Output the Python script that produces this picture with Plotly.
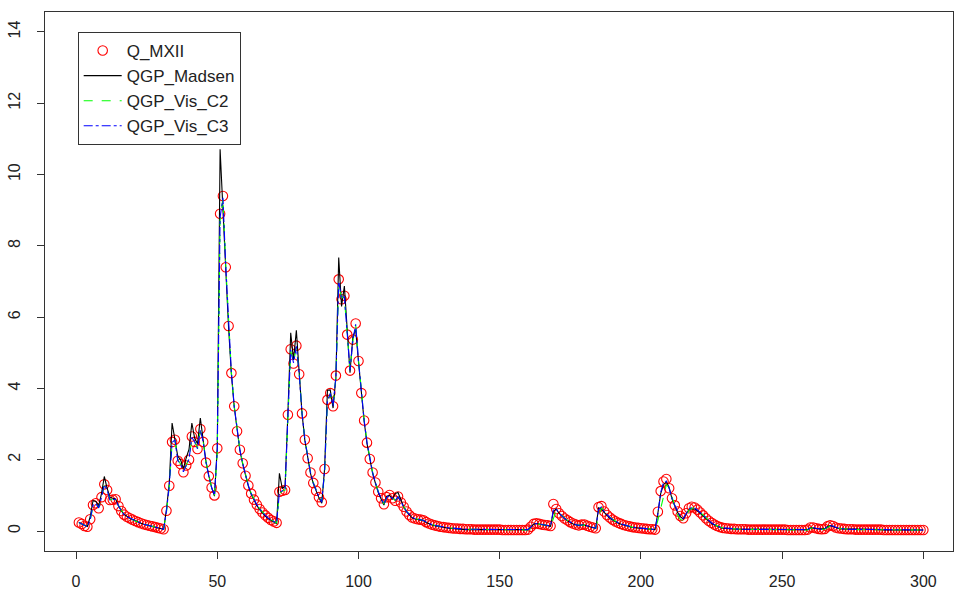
import plotly.graph_objects as go

x_index = list(range(1, 301))

q_mxii = [
    0.24, 0.20, 0.14, 0.12, 0.33, 0.73, 0.78, 0.64, 0.95, 1.31,
    1.15, 0.87, 0.88, 0.89, 0.70, 0.56, 0.46, 0.40, 0.36, 0.32,
    0.28, 0.25, 0.22, 0.19, 0.17, 0.15, 0.13, 0.11, 0.09, 0.07,
    0.05, 0.57, 1.27, 2.50, 2.56, 1.97, 1.88, 1.65, 1.84, 2.00,
    2.65, 2.50, 2.30, 2.86, 2.50, 1.92, 1.54, 1.22, 1.00, 2.32,
    8.90, 9.40, 7.40, 5.75, 4.43, 3.50, 2.80, 2.28, 1.90, 1.55,
    1.28, 1.05, 0.88, 0.74, 0.62, 0.52, 0.44, 0.37, 0.31, 0.27,
    0.23, 1.10, 1.13, 1.15, 3.26, 5.10, 4.70, 5.20, 4.40, 3.30,
    2.56, 2.04, 1.64, 1.35, 1.13, 0.95, 0.81, 1.74, 3.68, 3.87,
    3.50, 4.36, 7.06, 6.50, 6.60, 5.51, 4.50, 5.37, 5.82, 4.77,
    3.87, 3.10, 2.48, 2.02, 1.64, 1.36, 1.10, 0.92, 0.75, 0.95,
    1.01, 0.92, 0.85, 0.97, 0.80, 0.68, 0.55, 0.45, 0.38, 0.35,
    0.33, 0.32, 0.30, 0.25, 0.21, 0.18, 0.16, 0.14, 0.12, 0.11,
    0.10, 0.09, 0.08, 0.07, 0.07, 0.06, 0.06, 0.05, 0.05, 0.05,
    0.04, 0.04, 0.04, 0.04, 0.04, 0.04, 0.04, 0.04, 0.04, 0.04,
    0.03, 0.03, 0.03, 0.03, 0.03, 0.03, 0.03, 0.03, 0.03, 0.04,
    0.12, 0.20, 0.22, 0.20, 0.18, 0.17, 0.16, 0.14, 0.76, 0.62,
    0.50, 0.42, 0.35, 0.30, 0.25, 0.21, 0.18, 0.16, 0.18, 0.18,
    0.15, 0.12, 0.10, 0.08, 0.67, 0.70, 0.55, 0.45, 0.38, 0.32,
    0.27, 0.23, 0.20, 0.17, 0.15, 0.13, 0.11, 0.10, 0.09, 0.08,
    0.07, 0.06, 0.05, 0.05, 0.04, 0.54, 1.12, 1.39, 1.46, 1.20,
    0.92, 0.72, 0.55, 0.42, 0.36, 0.50, 0.64, 0.68, 0.66, 0.60,
    0.52, 0.44, 0.36, 0.29, 0.23, 0.18, 0.14, 0.11, 0.09, 0.08,
    0.07, 0.06, 0.06, 0.05, 0.05, 0.05, 0.05, 0.04, 0.04, 0.04,
    0.04, 0.04, 0.04, 0.04, 0.04, 0.04, 0.04, 0.04, 0.04, 0.04,
    0.04, 0.03, 0.03, 0.03, 0.03, 0.03, 0.03, 0.03, 0.04, 0.10,
    0.10, 0.08, 0.06, 0.05, 0.06, 0.13, 0.16, 0.14, 0.10, 0.08,
    0.07, 0.06, 0.05, 0.05, 0.05, 0.04, 0.04, 0.04, 0.04, 0.04,
    0.04, 0.04, 0.04, 0.04, 0.04, 0.03, 0.03, 0.03, 0.03, 0.03,
    0.03, 0.03, 0.03, 0.03, 0.03, 0.03, 0.03, 0.03, 0.03, 0.03,
]

qgp_madsen = [
    0.24, 0.20, 0.15, 0.13, 0.40, 0.85, 0.83, 0.70, 1.05, 1.53,
    1.20, 0.95, 0.92, 0.90, 0.72, 0.57, 0.47, 0.41, 0.36, 0.32,
    0.28, 0.25, 0.22, 0.19, 0.17, 0.15, 0.13, 0.11, 0.09, 0.07,
    0.05, 0.60, 1.35, 3.03, 2.60, 2.10, 2.00, 1.75, 2.05, 2.30,
    3.03, 2.60, 2.45, 3.17, 2.55, 1.95, 1.55, 1.22, 0.98, 2.35,
    10.71, 9.20, 7.35, 5.70, 4.40, 3.48, 2.78, 2.26, 1.88, 1.53,
    1.26, 1.03, 0.86, 0.72, 0.60, 0.50, 0.42, 0.35, 0.29, 0.25,
    0.21, 1.62, 1.20, 1.25, 3.30, 5.56, 4.80, 5.63, 4.45, 3.30,
    2.55, 2.02, 1.62, 1.33, 1.11, 0.93, 0.78, 1.75, 3.95, 3.96,
    3.45, 4.30, 7.67, 6.30, 6.87, 5.60, 4.44, 5.45, 5.65, 4.75,
    3.85, 3.08, 2.46, 2.00, 1.62, 1.34, 1.08, 0.90, 0.73, 0.98,
    1.00, 0.90, 1.05, 1.08, 0.85, 0.68, 0.54, 0.44, 0.37, 0.34,
    0.32, 0.31, 0.29, 0.24, 0.20, 0.17, 0.15, 0.13, 0.11, 0.10,
    0.09, 0.08, 0.07, 0.06, 0.06, 0.05, 0.05, 0.04, 0.04, 0.04,
    0.04, 0.04, 0.04, 0.04, 0.04, 0.04, 0.04, 0.04, 0.04, 0.04,
    0.03, 0.03, 0.03, 0.03, 0.03, 0.03, 0.03, 0.03, 0.03, 0.04,
    0.11, 0.19, 0.21, 0.19, 0.17, 0.16, 0.15, 0.13, 0.55, 0.62,
    0.50, 0.42, 0.35, 0.29, 0.24, 0.20, 0.17, 0.15, 0.17, 0.17,
    0.14, 0.11, 0.09, 0.07, 0.65, 0.62, 0.52, 0.43, 0.36, 0.31,
    0.26, 0.22, 0.19, 0.16, 0.14, 0.12, 0.10, 0.09, 0.08, 0.07,
    0.06, 0.05, 0.05, 0.04, 0.04, 0.50, 1.05, 1.30, 1.38, 1.22,
    0.90, 0.70, 0.52, 0.40, 0.34, 0.48, 0.60, 0.62, 0.62, 0.57,
    0.50, 0.42, 0.34, 0.27, 0.21, 0.17, 0.13, 0.10, 0.08, 0.07,
    0.06, 0.06, 0.05, 0.05, 0.05, 0.05, 0.04, 0.04, 0.04, 0.04,
    0.04, 0.04, 0.04, 0.04, 0.04, 0.04, 0.04, 0.04, 0.04, 0.04,
    0.04, 0.03, 0.03, 0.03, 0.03, 0.03, 0.03, 0.03, 0.04, 0.09,
    0.09, 0.07, 0.06, 0.05, 0.06, 0.12, 0.15, 0.13, 0.09, 0.07,
    0.06, 0.06, 0.05, 0.05, 0.05, 0.04, 0.04, 0.04, 0.04, 0.04,
    0.04, 0.04, 0.04, 0.04, 0.04, 0.03, 0.03, 0.03, 0.03, 0.03,
    0.03, 0.03, 0.03, 0.03, 0.03, 0.03, 0.03, 0.03, 0.03, 0.03,
]

qgp_vis_c2 = [
    0.24, 0.20, 0.15, 0.12, 0.30, 0.70, 0.78, 0.66, 0.92, 1.28,
    1.16, 0.88, 0.88, 0.89, 0.71, 0.57, 0.47, 0.41, 0.36, 0.32,
    0.28, 0.25, 0.22, 0.19, 0.17, 0.15, 0.13, 0.11, 0.09, 0.07,
    0.05, 0.52, 1.25, 2.45, 2.55, 2.00, 1.88, 1.68, 1.84, 2.05,
    2.60, 2.52, 2.32, 2.80, 2.52, 1.94, 1.55, 1.23, 1.00, 2.20,
    8.70, 9.35, 7.45, 5.78, 4.45, 3.52, 2.82, 2.29, 1.91, 1.56,
    1.29, 1.06, 0.89, 0.75, 0.63, 0.53, 0.45, 0.38, 0.32, 0.27,
    0.23, 1.05, 1.12, 1.15, 3.15, 5.05, 4.75, 5.15, 4.45, 3.32,
    2.58, 2.05, 1.65, 1.36, 1.14, 0.96, 0.82, 1.65, 3.60, 3.85,
    3.52, 4.30, 6.90, 6.55, 6.55, 5.55, 4.52, 5.32, 5.78, 4.80,
    3.90, 3.12, 2.50, 2.03, 1.65, 1.37, 1.11, 0.93, 0.76, 0.92,
    1.00, 0.93, 0.86, 0.95, 0.81, 0.69, 0.56, 0.46, 0.39, 0.35,
    0.33, 0.32, 0.30, 0.25, 0.21, 0.18, 0.16, 0.14, 0.12, 0.11,
    0.10, 0.09, 0.08, 0.07, 0.07, 0.06, 0.06, 0.05, 0.05, 0.05,
    0.04, 0.04, 0.04, 0.04, 0.04, 0.04, 0.04, 0.04, 0.04, 0.04,
    0.03, 0.03, 0.03, 0.03, 0.03, 0.03, 0.03, 0.03, 0.03, 0.03,
    0.08, 0.16, 0.20, 0.20, 0.18, 0.17, 0.16, 0.14, 0.35, 0.58,
    0.52, 0.43, 0.36, 0.30, 0.25, 0.21, 0.18, 0.16, 0.16, 0.17,
    0.15, 0.12, 0.10, 0.08, 0.40, 0.66, 0.56, 0.46, 0.39, 0.33,
    0.27, 0.23, 0.20, 0.17, 0.15, 0.13, 0.11, 0.10, 0.09, 0.08,
    0.07, 0.06, 0.05, 0.05, 0.04, 0.30, 0.62, 0.95, 1.30, 1.22,
    0.95, 0.70, 0.45, 0.32, 0.30, 0.42, 0.58, 0.64, 0.65, 0.60,
    0.52, 0.44, 0.36, 0.29, 0.23, 0.18, 0.14, 0.11, 0.09, 0.08,
    0.07, 0.06, 0.06, 0.05, 0.05, 0.05, 0.05, 0.04, 0.04, 0.04,
    0.04, 0.04, 0.04, 0.04, 0.04, 0.04, 0.04, 0.04, 0.04, 0.04,
    0.04, 0.03, 0.03, 0.03, 0.03, 0.03, 0.03, 0.03, 0.03, 0.07,
    0.09, 0.08, 0.06, 0.05, 0.05, 0.10, 0.14, 0.13, 0.10, 0.08,
    0.07, 0.06, 0.05, 0.05, 0.05, 0.04, 0.04, 0.04, 0.04, 0.04,
    0.04, 0.04, 0.04, 0.04, 0.04, 0.03, 0.03, 0.03, 0.03, 0.03,
    0.03, 0.03, 0.03, 0.03, 0.03, 0.03, 0.03, 0.03, 0.03, 0.03,
]

qgp_vis_c3 = [
    0.24, 0.20, 0.14, 0.12, 0.32, 0.72, 0.78, 0.65, 0.94, 1.30,
    1.15, 0.87, 0.88, 0.89, 0.70, 0.56, 0.46, 0.40, 0.36, 0.32,
    0.28, 0.25, 0.22, 0.19, 0.17, 0.15, 0.13, 0.11, 0.09, 0.07,
    0.05, 0.56, 1.27, 2.48, 2.56, 1.98, 1.88, 1.66, 1.84, 2.02,
    2.63, 2.50, 2.31, 2.84, 2.50, 1.93, 1.54, 1.22, 1.00, 2.28,
    8.80, 9.35, 7.42, 5.76, 4.44, 3.51, 2.81, 2.28, 1.90, 1.55,
    1.28, 1.05, 0.88, 0.74, 0.62, 0.52, 0.44, 0.37, 0.31, 0.27,
    0.23, 1.08, 1.13, 1.15, 3.22, 5.08, 4.72, 5.18, 4.42, 3.31,
    2.57, 2.04, 1.64, 1.35, 1.13, 0.95, 0.81, 1.70, 3.65, 3.86,
    3.51, 4.34, 7.00, 6.52, 6.58, 5.53, 4.51, 5.35, 5.80, 4.78,
    3.88, 3.11, 2.49, 2.02, 1.64, 1.36, 1.10, 0.92, 0.75, 0.94,
    1.00, 0.92, 0.85, 0.96, 0.80, 0.68, 0.55, 0.45, 0.38, 0.35,
    0.33, 0.32, 0.30, 0.25, 0.21, 0.18, 0.16, 0.14, 0.12, 0.11,
    0.10, 0.09, 0.08, 0.07, 0.07, 0.06, 0.06, 0.05, 0.05, 0.05,
    0.04, 0.04, 0.04, 0.04, 0.04, 0.04, 0.04, 0.04, 0.04, 0.04,
    0.03, 0.03, 0.03, 0.03, 0.03, 0.03, 0.03, 0.03, 0.03, 0.04,
    0.11, 0.19, 0.21, 0.20, 0.18, 0.17, 0.16, 0.14, 0.60, 0.62,
    0.50, 0.42, 0.35, 0.30, 0.25, 0.21, 0.18, 0.16, 0.17, 0.18,
    0.15, 0.12, 0.10, 0.08, 0.60, 0.68, 0.55, 0.45, 0.38, 0.32,
    0.27, 0.23, 0.20, 0.17, 0.15, 0.13, 0.11, 0.10, 0.09, 0.08,
    0.07, 0.06, 0.05, 0.05, 0.04, 0.48, 1.08, 1.36, 1.40, 1.20,
    0.92, 0.72, 0.54, 0.41, 0.35, 0.49, 0.62, 0.66, 0.65, 0.59,
    0.52, 0.44, 0.36, 0.29, 0.23, 0.18, 0.14, 0.11, 0.09, 0.08,
    0.07, 0.06, 0.06, 0.05, 0.05, 0.05, 0.05, 0.04, 0.04, 0.04,
    0.04, 0.04, 0.04, 0.04, 0.04, 0.04, 0.04, 0.04, 0.04, 0.04,
    0.04, 0.03, 0.03, 0.03, 0.03, 0.03, 0.03, 0.03, 0.04, 0.09,
    0.10, 0.08, 0.06, 0.05, 0.06, 0.12, 0.15, 0.14, 0.10, 0.08,
    0.07, 0.06, 0.05, 0.05, 0.05, 0.04, 0.04, 0.04, 0.04, 0.04,
    0.04, 0.04, 0.04, 0.04, 0.04, 0.03, 0.03, 0.03, 0.03, 0.03,
    0.03, 0.03, 0.03, 0.03, 0.03, 0.03, 0.03, 0.03, 0.03, 0.03,
]

x_ticks = [0, 50, 100, 150, 200, 250, 300]
y_ticks = [0, 2, 4, 6, 8, 10, 12, 14]

FONT = "Liberation Sans, Arial, Helvetica, sans-serif"

fig = go.Figure()
fig.add_trace(go.Scatter(
    x=x_index, y=q_mxii, mode="markers", name="Q_MXII",
    marker=dict(symbol="circle-open", size=9.5, color="#FF0000",
                line=dict(width=1.1, color="#FF0000")),
))
fig.add_trace(go.Scatter(
    x=x_index, y=qgp_madsen, mode="lines", name="QGP_Madsen",
    line=dict(color="#000000", width=1.1),
))
fig.add_trace(go.Scatter(
    x=x_index, y=qgp_vis_c2, mode="lines", name="QGP_Vis_C2",
    line=dict(color="#00FF00", width=1.1, dash="dash"),
))
fig.add_trace(go.Scatter(
    x=x_index, y=qgp_vis_c3, mode="lines", name="QGP_Vis_C3",
    line=dict(color="#0000FF", width=1.1, dash="dashdot"),
))

axis_common = dict(
    showgrid=False, zeroline=False, showline=True, mirror=True,
    linecolor="#333333", linewidth=1, ticks="outside", ticklen=7,
    tickcolor="#333333", tickwidth=1,
    tickfont=dict(family=FONT, size=16, color="#222222"),
)

fig.update_layout(
    width=956, height=593,
    margin=dict(l=45, r=3, t=12, b=42),
    paper_bgcolor="white", plot_bgcolor="white",
    font=dict(family=FONT, size=16, color="#222222"),
    xaxis=dict(range=[-11, 310.5], tickvals=x_ticks, ticklabelstandoff=9,
               **axis_common),
    yaxis=dict(range=[-0.56, 14.56], tickvals=y_ticks, tickangle=-90,
               ticklabelstandoff=11, **axis_common),
    legend=dict(
        x=0.036, y=0.963, xanchor="left", yanchor="top",
        bordercolor="#333333", borderwidth=1, bgcolor="white",
        font=dict(family=FONT, size=17, color="#222222"),
        itemwidth=38, tracegroupgap=0,
    ),
    showlegend=True,
)

fig.write_html("out.html")
